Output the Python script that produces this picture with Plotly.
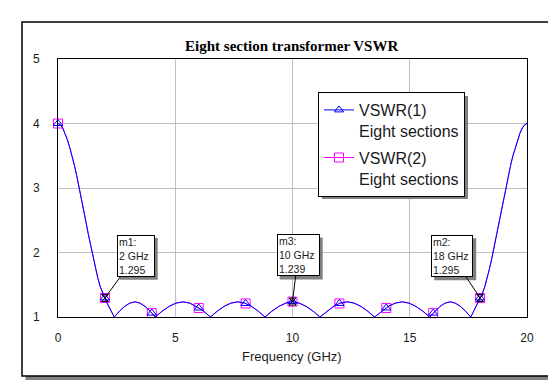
import plotly.graph_objects as go

# ---------------- data ----------------
FREQ_GHZ = [0.0, 0.1, 0.2, 0.3, 0.4, 0.5, 0.6, 0.7, 0.8, 0.9, 1.0, 1.1, 1.2, 1.3, 1.4,
            1.5, 1.6, 1.7, 1.8, 1.9, 2.0, 2.1, 2.2, 2.3, 2.4,
            2.62, 2.84, 3.06, 3.28, 3.49, 3.71, 3.93, 4.0, 4.15,
            4.44, 4.74, 5.03, 5.32, 5.62, 5.91, 6.0, 6.21, 6.5,
            6.79, 7.08, 7.37, 7.67, 7.96, 8.0, 8.25, 8.54, 8.83,
            9.12, 9.42, 9.71, 10.0, 10.29, 10.58, 10.88, 11.17,
            11.46, 11.75, 12.0, 12.04, 12.33, 12.63, 12.92, 13.21, 13.5,
            13.79, 14.0, 14.09, 14.38, 14.68, 14.97, 15.26, 15.56, 15.85,
            16.0, 16.07, 16.29, 16.51, 16.72, 16.94, 17.16, 17.38, 17.6,
            17.7, 17.8, 17.9, 18.0, 18.1, 18.2, 18.3, 18.4, 18.5, 18.6, 18.7, 18.8,
            18.9, 19.0, 19.1, 19.2, 19.3, 19.4, 19.5, 19.6, 19.7, 19.8, 19.9, 20.0]

VSWR_1 = [4.0, 3.98, 3.93, 3.85, 3.75, 3.63, 3.50, 3.35, 3.19, 3.02, 2.84, 2.65, 2.46, 2.27, 2.09,
          1.91, 1.75, 1.60, 1.47, 1.37, 1.295, 1.21, 1.14, 1.07, 1.0,
          1.09, 1.165, 1.215, 1.235, 1.215, 1.165, 1.09, 1.06, 1.0,
          1.09, 1.165, 1.215, 1.235, 1.215, 1.165, 1.14, 1.09, 1.0,
          1.09, 1.165, 1.215, 1.235, 1.215, 1.21, 1.165, 1.09, 1.0,
          1.09, 1.165, 1.215, 1.239, 1.215, 1.165, 1.09, 1.0,
          1.09, 1.165, 1.21, 1.215, 1.235, 1.215, 1.165, 1.09, 1.0,
          1.09, 1.14, 1.165, 1.215, 1.235, 1.215, 1.165, 1.09, 1.0,
          1.06, 1.09, 1.165, 1.215, 1.235, 1.215, 1.165, 1.09, 1.0,
          1.07, 1.14, 1.21, 1.295, 1.37, 1.47, 1.60, 1.75, 1.91, 2.09, 2.27, 2.46,
          2.65, 2.84, 3.02, 3.19, 3.35, 3.50, 3.63, 3.75, 3.85, 3.93, 3.98, 4.0]

VSWR_2 = list(VSWR_1)   # second trace overlays the first exactly

SYMBOL_FREQ_GHZ = [0, 2, 4, 6, 8, 10, 12, 14, 16, 18]

MARKER_NAMES = ["m1", "m3", "m2"]
MARKER_FREQ_GHZ = [2, 10, 18]
MARKER_VSWR = [1.295, 1.239, 1.295]

SERIES_NAMES = ["VSWR(1)<br>Eight sections", "VSWR(2)<br>Eight sections"]
X_TICKS = [0, 5, 10, 15, 20]
Y_TICKS = [1, 2, 3, 4, 5]

assert len(FREQ_GHZ) == len(VSWR_1)

# ---------------- layout geometry ----------------
# The page body has an 8px margin, so the figure is drawn 8px in from the window corner.
OFF = 8
W, H = 556 - OFF, 380 - OFF
# plot area in window pixels: x 58..527, y 59..317
L, T = 58 - OFF, 59 - OFF
R, B = W - (527 - OFF), H - (317 - OFF)
PW, PH = W - L - R, H - T - B


def px2x(px):          # window px -> paper x
    return (px - OFF - L) / PW


def py2y(py):          # window py -> paper y
    return (H - B - (py - OFF)) / PH


sel = [i for i, f in enumerate(FREQ_GHZ) if any(abs(f - s) < 1e-9 for s in SYMBOL_FREQ_GHZ)]

SANS = "Liberation Sans, Arial, sans-serif"
TXT = "#1a1a1a"
fig = go.Figure()

fig.add_trace(go.Scatter(
    x=FREQ_GHZ, y=VSWR_2, name=SERIES_NAMES[1], mode="lines+markers",
    line=dict(color="#ff00ff", width=1),
    marker=dict(symbol="square-open", size=9, color="#ff00ff", line=dict(width=1)),
    selectedpoints=sel, selected=dict(marker=dict(opacity=1)),
    unselected=dict(marker=dict(opacity=0)),
    cliponaxis=False, legendgroup="g2", legendrank=2, hoverinfo="skip",
))
fig.add_trace(go.Scatter(
    x=FREQ_GHZ, y=VSWR_1, name=SERIES_NAMES[0], mode="lines+markers",
    line=dict(color="#0000ff", width=1),
    marker=dict(symbol="triangle-up-open", size=8, color="#0000ff", line=dict(width=1)),
    selectedpoints=sel, selected=dict(marker=dict(opacity=1)),
    unselected=dict(marker=dict(opacity=0)),
    cliponaxis=False, legendgroup="g1", legendrank=1, hoverinfo="skip",
))
fig.add_trace(go.Scatter(
    x=MARKER_FREQ_GHZ, y=MARKER_VSWR, mode="markers", showlegend=False,
    marker=dict(symbol="hourglass-open", size=7, color="black", line=dict(width=1)),
    cliponaxis=False, hoverinfo="skip",
))

shapes = [
    # outer frame shadow + frame
    dict(type="rect", xref="paper", yref="paper", layer="below",
         x0=px2x(25.5), x1=px2x(556), y0=py2y(380), y1=py2y(25.5),
         fillcolor="#808080", line=dict(width=0)),
    dict(type="rect", xref="paper", yref="paper", layer="below",
         x0=px2x(22), x1=px2x(552.5), y0=py2y(376), y1=py2y(22),
         fillcolor="white", line=dict(color="black", width=1.5)),
]

annotations = [
    dict(text="Frequency (GHz)", xref="paper", yref="paper",
         x=px2x(292), y=py2y(356), xanchor="center", yanchor="middle",
         showarrow=False, font=dict(family=SANS, size=13, color=TXT)),
]

# marker read-out boxes: box centre and size in window px
BOX_CENTRES = [(135.7, 255.8), (298.2, 255.5), (452.2, 256.2)]
BOX_SIZES = [(38, 42), (43, 42), (42, 42)]
for name, f, v, (cx, cy), (bw, bh) in zip(MARKER_NAMES, MARKER_FREQ_GHZ, MARKER_VSWR,
                                            BOX_CENTRES, BOX_SIZES):
    px_pt = 58 + f / 20 * PW
    py_pt = 59 + (5 - v) / 4 * PH
    shapes.append(dict(type="rect", xref="paper", yref="paper", layer="above",
                       x0=px2x(cx - bw / 2 + 3), x1=px2x(cx + bw / 2 + 3),
                       y0=py2y(cy + bh / 2 + 3), y1=py2y(cy - bh / 2 + 3),
                       fillcolor="#808080", line=dict(width=0)))
    annotations.append(dict(
        x=f, y=v, xref="x", yref="y", text=f"{name}:<br>{f:g} GHz<br>{v:.3f}",
        align="left", valign="middle", width=bw - 4, height=bh - 4,
        showarrow=True, axref="pixel", ayref="pixel",
        ax=cx - px_pt, ay=cy - py_pt, arrowhead=0, arrowwidth=1, arrowcolor="black",
        borderwidth=1, borderpad=1, bgcolor="white", bordercolor="black",
        font=dict(family=SANS, size=10.5, color=TXT)))

# legend shadow (legend box approx. 318..464 x 92..196 in window px)
LEG_X, LEG_Y = 318, 92
shapes.append(dict(type="rect", xref="paper", yref="paper", layer="above",
                   x0=px2x(LEG_X + 4), x1=px2x(LEG_X + 146 + 4),
                   y0=py2y(LEG_Y + 103 + 4), y1=py2y(LEG_Y + 4),
                   fillcolor="#808080", line=dict(width=0)))

fig.update_layout(
    width=W, height=H,
    margin=dict(l=L, r=R, t=T, b=B, autoexpand=False),
    paper_bgcolor="white", plot_bgcolor="white",
    title=dict(text="<b>Eight section transformer VSWR</b>",
               x=(291.7 - OFF) / W, y=1 - (46 - OFF) / H, xanchor="center", yanchor="middle",
               font=dict(family="Liberation Serif, Times New Roman, serif", size=15, color="black")),
    xaxis=dict(range=[0, 20], tickvals=X_TICKS, ticks="", showgrid=True,
               gridcolor="#c0c0c0", gridwidth=1, zeroline=False,
               showline=True, linecolor="black", linewidth=1, mirror=True,
               ticklabelstandoff=10,
               tickfont=dict(family=SANS, size=12, color=TXT)),
    yaxis=dict(range=[1, 5], tickvals=Y_TICKS, ticks="", showgrid=True,
               gridcolor="#c0c0c0", gridwidth=1, zeroline=False,
               showline=True, linecolor="black", linewidth=1, mirror=True,
               ticklabelstandoff=15,
               tickfont=dict(family=SANS, size=12, color=TXT)),
    legend=dict(x=px2x(LEG_X), y=py2y(LEG_Y), xanchor="left", yanchor="top",
                bgcolor="white", bordercolor="black", borderwidth=1,
                font=dict(family=SANS, size=16, color=TXT),
                valign="top", tracegroupgap=3, itemwidth=30),
    shapes=shapes, annotations=annotations,
    showlegend=True,
)

fig.write_html("out.html")
